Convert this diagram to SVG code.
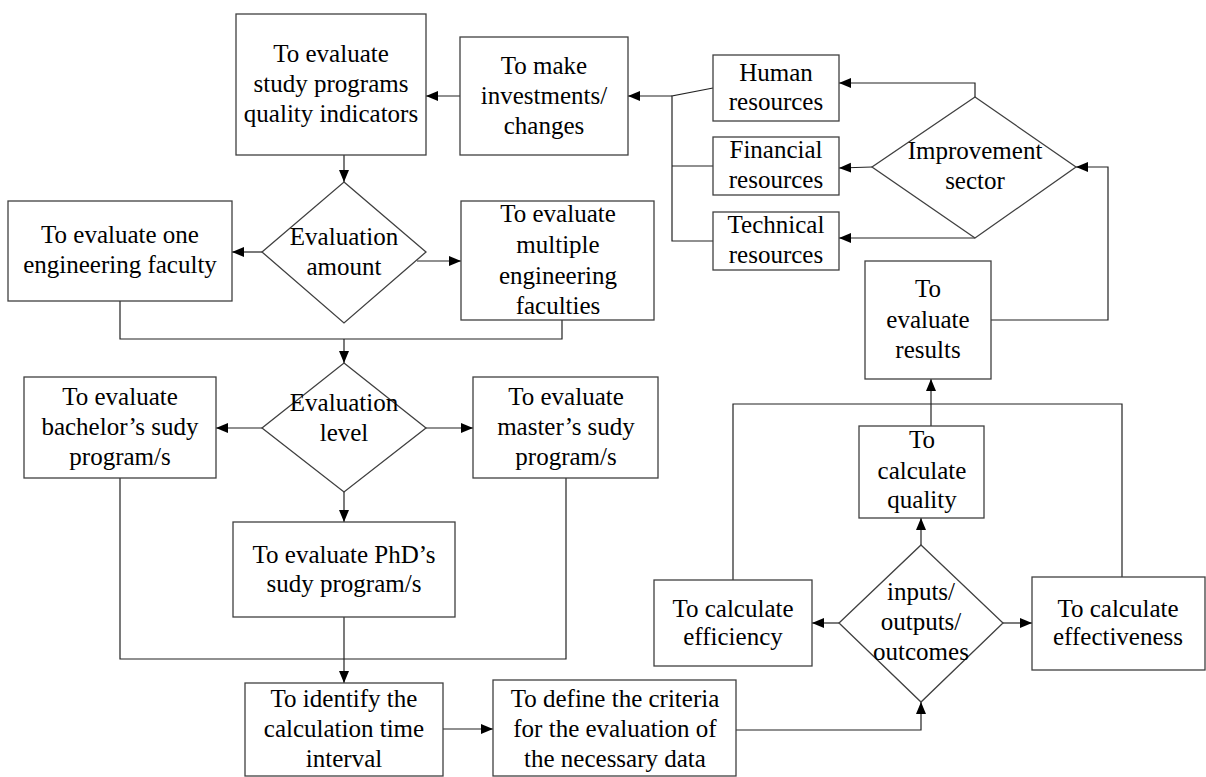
<svg xmlns="http://www.w3.org/2000/svg" width="1206" height="777" viewBox="0 0 1206 777">
<defs>
<marker id="ah" markerUnits="userSpaceOnUse" markerWidth="13" markerHeight="11" refX="12" refY="5" orient="auto">
<path d="M0,0 L12,5 L0,10 z" fill="#000"/>
</marker>
</defs>
<style>
.b{fill:#fff;stroke:#404040;stroke-width:1.3}
.c{fill:none;stroke:#222;stroke-width:1.2}
.a{marker-end:url(#ah)}
text{font-family:"Liberation Serif","Times New Roman",serif;font-size:25px;fill:#000;text-anchor:middle}
</style>
<rect width="1206" height="777" fill="#fff"/>
<g id="connectors">
<path class="c a" d="M460,96 H426"/>
<path class="c a" d="M672,96 H628"/>
<path class="c" d="M713,88 L672,96 V241 H713 M672,166 H713"/>
<path class="c a" d="M975,97 V83 H839"/>
<path class="c a" d="M872,167 L839,168"/>
<path class="c a" d="M975,238 H839"/>
<path class="c a" d="M991,320 H1108 V167 H1076"/>
<path class="c a" d="M344,155 V182"/>
<path class="c a" d="M262,252 H232"/>
<path class="c a" d="M417,261 H461"/>
<path class="c" d="M120,301 V339 H562 V320"/>
<path class="c a" d="M344,339 V363"/>
<path class="c a" d="M262,428 H216"/>
<path class="c a" d="M426,428 H473"/>
<path class="c a" d="M344,492 V522"/>
<path class="c" d="M120,478 V659 H566 V478"/>
<path class="c a" d="M344,617 V683"/>
<path class="c a" d="M443,729 H493"/>
<path class="c a" d="M736,730 H921 V702"/>
<path class="c a" d="M839,623 H812"/>
<path class="c a" d="M1003,623 H1032"/>
<path class="c a" d="M921,545 V518"/>
<path class="c a" d="M931,426 V379"/>
<path class="c" d="M733,580 V404 H1122 V577"/>
</g>
<g id="n_study">
<rect class="b" x="236" y="14" width="190" height="141"/>
<text x="331" y="62">To evaluate</text><text x="331" y="92">study programs</text><text x="331" y="122">quality indicators</text>
</g>
<g id="n_invest">
<rect class="b" x="460" y="37" width="168" height="118"/>
<text x="544" y="74">To make</text><text x="544" y="104">investments/</text><text x="544" y="134">changes</text>
</g>
<g id="n_human">
<rect class="b" x="713" y="55" width="126" height="66"/>
<text x="776" y="81">Human</text><text x="776" y="110">resources</text>
</g>
<g id="n_financial">
<rect class="b" x="713" y="137" width="126" height="58"/>
<text x="776" y="158">Financial</text><text x="776" y="188">resources</text>
</g>
<g id="n_technical">
<rect class="b" x="713" y="212" width="126" height="58"/>
<text x="776" y="233">Technical</text><text x="776" y="263">resources</text>
</g>
<g id="n_improve">
<polygon class="b" points="975,97 1076,167 975,238 872,167"/>
<text x="975" y="159">Improvement</text><text x="975" y="189">sector</text>
</g>
<g id="n_amount">
<polygon class="b" points="344,182 426,252 344,323 262,252"/>
<text x="344" y="245">Evaluation</text><text x="344" y="275">amount</text>
</g>
<g id="n_one">
<rect class="b" x="8" y="201" width="224" height="100"/>
<text x="120" y="243">To evaluate one</text><text x="120" y="273">engineering faculty</text>
</g>
<g id="n_multi">
<rect class="b" x="461" y="201" width="193" height="119"/>
<text x="558" y="222">To evaluate</text><text x="558" y="253">multiple</text><text x="558" y="284">engineering</text><text x="558" y="314">faculties</text>
</g>
<g id="n_level">
<polygon class="b" points="344,363 426,428 344,492 262,428"/>
<text x="344" y="411">Evaluation</text><text x="344" y="441">level</text>
</g>
<g id="n_bachelor">
<rect class="b" x="24" y="377" width="192" height="101"/>
<text x="120" y="405">To evaluate</text><text x="120" y="435">bachelor’s sudy</text><text x="120" y="465">program/s</text>
</g>
<g id="n_master">
<rect class="b" x="473" y="377" width="185" height="101"/>
<text x="566" y="405">To evaluate</text><text x="566" y="435">master’s sudy</text><text x="566" y="465">program/s</text>
</g>
<g id="n_phd">
<rect class="b" x="233" y="522" width="222" height="95"/>
<text x="344" y="563">To evaluate PhD’s</text><text x="344" y="592">sudy program/s</text>
</g>
<g id="n_identify">
<rect class="b" x="245" y="683" width="198" height="93"/>
<text x="344" y="707">To identify the</text><text x="344" y="737">calculation time</text><text x="344" y="767">interval</text>
</g>
<g id="n_criteria">
<rect class="b" x="493" y="680" width="243" height="96"/>
<text x="615" y="707">To define the criteria</text><text x="615" y="737">for the evaluation of</text><text x="615" y="767">the necessary data</text>
</g>
<g id="n_inputs">
<polygon class="b" points="921,545 1003,623 921,702 839,623"/>
<text x="921" y="600">inputs/</text><text x="921" y="630">outputs/</text><text x="921" y="660">outcomes</text>
</g>
<g id="n_eff">
<rect class="b" x="654" y="580" width="158" height="86"/>
<text x="733" y="617">To calculate</text><text x="733" y="645">efficiency</text>
</g>
<g id="n_effect">
<rect class="b" x="1032" y="577" width="173" height="93"/>
<text x="1118" y="617">To calculate</text><text x="1118" y="645">effectiveness</text>
</g>
<g id="n_quality">
<rect class="b" x="859" y="426" width="125" height="92"/>
<text x="922" y="448">To</text><text x="922" y="479">calculate</text><text x="922" y="508">quality</text>
</g>
<g id="n_results">
<rect class="b" x="865" y="261" width="126" height="118"/>
<text x="928" y="297">To</text><text x="928" y="328">evaluate</text><text x="928" y="358">results</text>
</g>
</svg>
